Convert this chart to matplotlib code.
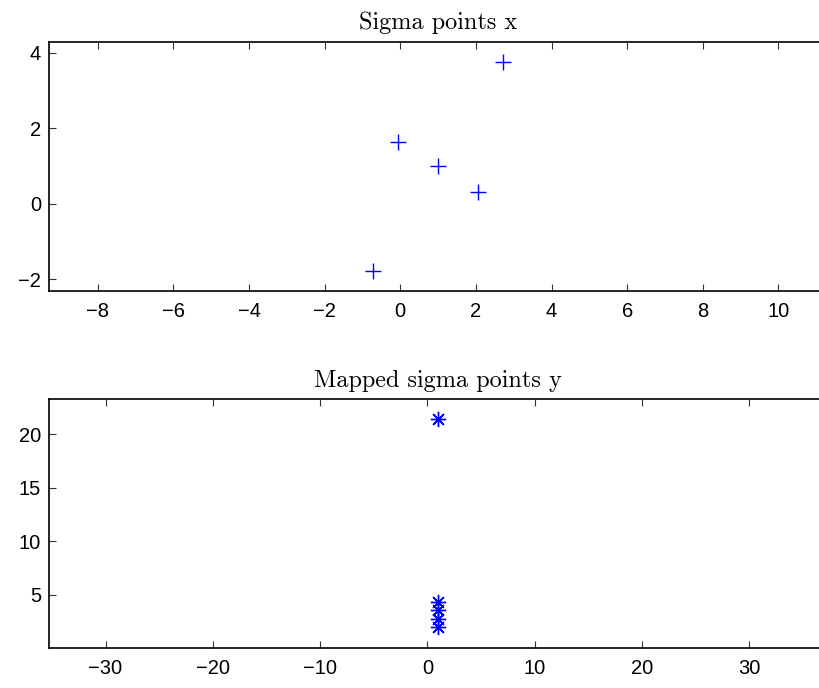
import matplotlib
matplotlib.use("Agg")
import matplotlib.pyplot as plt

# Sigma points x
sig_x = [2.71, -0.05, 1.00, 2.05, -0.71]
sig_y = [3.74, 1.63, 0.99, 0.32, -1.79]

# Mapped sigma points y
map_x = [1.0, 1.0, 1.0, 1.0, 1.0]
map_y = [21.4, 4.29, 3.54, 2.74, 1.95]

top_xticks = [-8, -6, -4, -2, 0, 2, 4, 6, 8, 10]
top_yticks = [-2, 0, 2, 4]
bot_xticks = [-30, -20, -10, 0, 10, 20, 30]
bot_yticks = [5, 10, 15, 20]

plt.rcParams['font.family'] = ['Liberation Sans', 'DejaVu Sans']

W, H = 819, 688
fig = plt.figure(figsize=(W / 100, H / 100), dpi=100)

left = 48.7 / W
width = (827.5 - 48.7) / W
ax1 = fig.add_axes([left, 1 - 290.7 / H, width, (290.7 - 42) / H])
ax2 = fig.add_axes([left, 1 - 648.3 / H, width, (648.3 - 399) / H])

ax1.plot(sig_x, sig_y, linestyle='none', marker='+', markersize=11.3,
         markeredgewidth=1.0, color='#0000ff')
ax2.plot(map_x, map_y, linestyle='none', marker=(8, 2, 0), markersize=11.0,
         markeredgewidth=1.0, color='#0000ff')

ax1.set_xlim(-9.30, 11.30)
ax1.set_ylim(-2.30, 4.28)
ax2.set_xlim(-35.3, 37.3)
ax2.set_ylim(-0.03, 23.3)

ax1.set_xticks(top_xticks)
ax1.set_yticks(top_yticks)
ax2.set_xticks(bot_xticks)
ax2.set_yticks(bot_yticks)

for ax in (ax1, ax2):
    ax.tick_params(direction='in', length=5, width=0.8, top=True, right=True,
                   labelsize=14.5, color='#333333')
    ax.tick_params(axis='x', pad=8)
    ax.tick_params(axis='y', pad=5.5)
    for s in ax.spines.values():
        s.set_linewidth(1.2)

tfont = dict(family=['cmr10', 'DejaVu Serif'], fontsize=17.5)
ax1.set_title('Sigma points x', pad=9, **tfont)
ax2.set_title('Mapped sigma points y', pad=9, **tfont)

fig.savefig('out.png', dpi=100)
